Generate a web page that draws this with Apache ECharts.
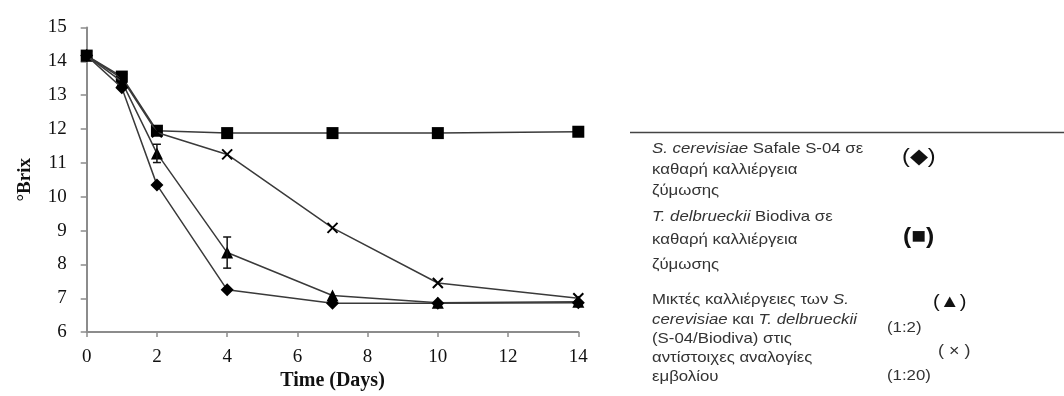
<!DOCTYPE html>
<html>
<head>
<meta charset="utf-8">
<script src="https://cdn.jsdelivr.net/npm/echarts@6/dist/echarts.min.js"></script>
<style>
  html, body { margin: 0; padding: 0; background: #fff; }
  #chart { width: 1064px; height: 396px; }
</style>
</head>
<body>
<div id="chart"></div>
<script>
// Sampling days of the fermentation
const days = [0, 1, 2, 4, 7, 10, 14];
// °Brix over time for each inoculation
const sCerevisiae = [14.17, 13.22, 10.35, 7.25, 6.85, 6.85, 6.87];
const tDelbrueckii = [14.17, 13.55, 11.95, 11.88, 11.88, 11.88, 11.92];
const mix1to2 = [14.17, 13.40, 11.28, 8.35, 7.08, 6.87, 6.90];
const mix1to2Err = [0, 0, 0.27, 0.46, 0, 0, 0];
const mix1to20 = [14.17, 13.50, 11.90, 11.25, 9.08, 7.45, 7.00];
const yTicks = { min: 6, max: 15, step: 1 };
const xTicks = { min: 0, max: 14, step: 2 };

const pairs = arr => days.map((d, i) => [d, arr[i]]);
const errData = days
  .map((d, i) => [d, mix1to2[i] - mix1to2Err[i], mix1to2[i] + mix1to2Err[i]])
  .filter((r, i) => mix1to2Err[i] > 0);

const serif = '"Liberation Serif", "Times New Roman", serif';
const sans = '"Liberation Sans", Arial, sans-serif';
const lineStyle = { color: '#3a3a3a', width: 1.5 };
const axisColor = '#8c8c8c';
const stretch = 1.12;

const chart = echarts.init(document.getElementById('chart'));

// legend block on the right: one text element per line
const legendLines = [
  { y: 149, rich: [['i', 'S. cerevisiae'], ['n', ' Safale S-04 σε']] },
  { y: 170, rich: [['n', 'καθαρή καλλιέργεια']] },
  { y: 191, rich: [['n', 'ζύμωσης']] },
  { y: 217, rich: [['i', 'T. delbrueckii'], ['n', ' Biodiva σε']] },
  { y: 240, rich: [['n', 'καθαρή καλλιέργεια']] },
  { y: 265, rich: [['n', 'ζύμωσης']] },
  { y: 300, rich: [['n', 'Μικτές καλλιέργειες των '], ['i', 'S.']] },
  { y: 320, rich: [['i', 'cerevisiae'], ['n', ' και '], ['i', 'T. delbrueckii']] },
  { y: 339, rich: [['n', '(S-04/Biodiva) στις']] },
  { y: 358, rich: [['n', 'αντίστοιχες αναλογίες']] },
  { y: 377, rich: [['n', 'εμβολίου']] }
];
const richStyles = {
  n: { fontFamily: sans, fontSize: 15, fill: '#333' },
  i: { fontFamily: sans, fontSize: 15, fontStyle: 'italic', fill: '#333' }
};
const graphics = [
  { type: 'line', shape: { x1: 630, y1: 132.5, x2: 1064, y2: 132.5 },
    style: { stroke: '#444', lineWidth: 1.5 } }
];
legendLines.forEach(l => {
  graphics.push({
    type: 'text', x: 652, y: l.y, scaleX: stretch,
    style: {
      text: l.rich.map(p => '{' + p[0] + '|' + p[1] + '}').join(''),
      rich: richStyles, fontFamily: sans, fontSize: 15, fill: '#333',
      verticalAlign: 'middle'
    }
  });
});
const symbolLabels = [
  { x: 902, y: 157, text: '(◆)', size: 21, color: '#111', weight: 'normal' },
  { x: 903, y: 237, text: '(■)', size: 22, color: '#111', weight: 'bold' },
  { x: 933, y: 302, text: '(▲)', size: 18, color: '#111', weight: 'normal' },
  { x: 887, y: 328, text: '(1:2)', size: 15, color: '#333', weight: 'normal' },
  { x: 938, y: 352, text: '( × )', size: 16, color: '#333', weight: 'normal' },
  { x: 887, y: 376, text: '(1:20)', size: 15, color: '#333', weight: 'normal' }
];
symbolLabels.forEach(s => {
  graphics.push({
    type: 'text', x: s.x, y: s.y, scaleX: stretch,
    style: { text: s.text, fontFamily: sans, fontSize: s.size, fontWeight: s.weight,
             fill: s.color, verticalAlign: 'middle' }
  });
});

const crossPath = 'path://M0,0L10,10M10,0L0,10';

chart.setOption({
  animation: false,
  backgroundColor: '#fff',
  grid: { left: 86.7, right: 485.7, top: 27.5, bottom: 63.3 },
  xAxis: {
    type: 'value', min: xTicks.min, max: xTicks.max, interval: xTicks.step,
    name: 'Time (Days)', nameLocation: 'middle', nameGap: 38,
    nameTextStyle: { fontFamily: serif, fontSize: 20, fontWeight: 'bold', color: '#111' },
    axisLine: { show: true, lineStyle: { color: axisColor, width: 2 } },
    axisTick: { show: true, length: 5, lineStyle: { color: axisColor, width: 1.5 } },
    axisLabel: { margin: 15, fontFamily: serif, fontSize: 19, color: '#111' },
    splitLine: { show: false }
  },
  yAxis: {
    type: 'value', min: yTicks.min, max: yTicks.max, interval: yTicks.step,
    name: '°Brix', nameLocation: 'middle', nameGap: 52,
    nameTextStyle: { fontFamily: serif, fontSize: 19, fontWeight: 'bold', color: '#111' },
    axisLine: { show: true, lineStyle: { color: axisColor, width: 2 } },
    axisTick: { show: true, length: 6, lineStyle: { color: axisColor, width: 1.5 } },
    axisLabel: { margin: 20, fontFamily: serif, fontSize: 19, color: '#111' },
    splitLine: { show: false }
  },
  series: [
    {
      name: 'T. delbrueckii', type: 'line', data: pairs(tDelbrueckii),
      symbol: 'rect', symbolSize: 12, lineStyle: lineStyle,
      itemStyle: { color: '#000' }, z: 3
    },
    {
      name: '1:20', type: 'line', data: pairs(mix1to20),
      symbol: crossPath, symbolSize: 10, lineStyle: lineStyle,
      itemStyle: { color: '#000', borderColor: '#000', borderWidth: 2 }, z: 4
    },
    {
      name: '1:2', type: 'line', data: pairs(mix1to2),
      symbol: 'triangle', symbolSize: 12, lineStyle: lineStyle,
      itemStyle: { color: '#000' }, z: 5
    },
    {
      name: 'S. cerevisiae', type: 'line', data: pairs(sCerevisiae),
      symbol: 'diamond', symbolSize: 13, lineStyle: lineStyle,
      itemStyle: { color: '#000' }, z: 6
    },
    {
      name: 'error', type: 'custom', data: errData, z: 7,
      renderItem: function (params, api) {
        const lo = api.coord([api.value(0), api.value(1)]);
        const hi = api.coord([api.value(0), api.value(2)]);
        const w = 4;
        const st = { stroke: '#111', lineWidth: 1.5 };
        return {
          type: 'group',
          children: [
            { type: 'line', shape: { x1: lo[0], y1: lo[1], x2: hi[0], y2: hi[1] }, style: st },
            { type: 'line', shape: { x1: lo[0] - w, y1: lo[1], x2: lo[0] + w, y2: lo[1] }, style: st },
            { type: 'line', shape: { x1: hi[0] - w, y1: hi[1], x2: hi[0] + w, y2: hi[1] }, style: st }
          ]
        };
      }
    }
  ],
  graphic: graphics
});
</script>
</body>
</html>
